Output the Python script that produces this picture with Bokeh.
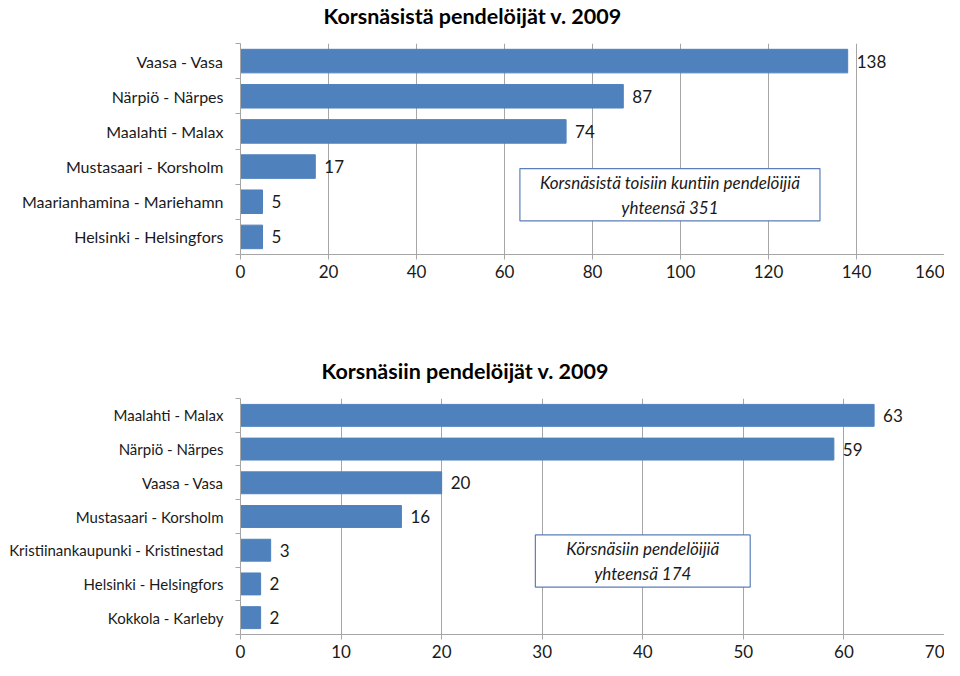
from bokeh.plotting import figure
from bokeh.models import ColumnDataSource, Range1d, FixedTicker, LabelSet, Label, Title
from bokeh.core.properties import value
from bokeh.layouts import column
from bokeh.embed import file_html
from bokeh.resources import INLINE

# ---- data: commuters out of Korsnäs ----
title_out = "Korsnäsistä pendelöijät v. 2009"
cats_out = ["Vaasa - Vasa", "Närpiö - Närpes", "Maalahti - Malax",
            "Mustasaari - Korsholm", "Maarianhamina - Mariehamn",
            "Helsinki - Helsingfors"]
vals_out = [138, 87, 74, 17, 5, 5]
ticks_out = [0, 20, 40, 60, 80, 100, 120, 140, 160]
note_out = "Korsnäsistä toisiin kuntiin pendelöijiä\nyhteensä 351"

# ---- data: commuters into Korsnäs ----
title_in = "Korsnäsiin pendelöijät v. 2009"
cats_in = ["Maalahti - Malax", "Närpiö - Närpes", "Vaasa - Vasa",
           "Mustasaari - Korsholm", "Kristiinankaupunki - Kristinestad",
           "Helsinki - Helsingfors", "Kokkola - Karleby"]
vals_in = [63, 59, 20, 16, 3, 2, 2]
ticks_in = [0, 10, 20, 30, 40, 50, 60, 70]
note_in = "Körsnäsiin pendelöijiä\nyhteensä 174"

FONT = "Lato"
BAR = "#4F81BD"
GRID = "#a6a6a6"
TXT = "#1a1a1a"


def make_chart(title, title_offset, cats, vals, ticks, note, note_pos,
               note_pad, width, height, bl, br, bt, bb, bar_h, cat_size):
    n = len(cats)
    src = ColumnDataSource(dict(y=list(range(n)), v=vals,
                                label=[str(v) for v in vals]))
    p = figure(width=width, height=height, output_backend="svg",
               toolbar_location=None,
               x_range=Range1d(ticks[0], ticks[-1]),
               y_range=Range1d(n - 0.5, -0.5),
               min_border_left=bl, min_border_right=br,
               min_border_top=bt, min_border_bottom=bb)
    p.outline_line_color = None
    p.background_fill_color = "white"
    p.border_fill_color = "white"

    # spacer between frame and title, then the title itself
    p.add_layout(Title(text=" ", text_font_size="1px", standoff=10), "above")
    p.add_layout(Title(text=title, align="left", offset=title_offset,
                       vertical_align="top", standoff=0, text_font=FONT,
                       text_font_style="bold", text_font_size="21.5px",
                       text_color="black"), "above")

    p.hbar(y="y", left=0, right="v", height=bar_h, source=src,
           fill_color=BAR, line_color=BAR)
    p.add_layout(LabelSet(x="v", y="y", text="label", source=src,
                          x_offset=9, text_baseline="middle",
                          text_font=value(FONT), text_font_size="17px",
                          text_color=TXT))

    # x axis
    xa = p.xaxis[0]
    xa.ticker = FixedTicker(ticks=ticks)
    xa.axis_line_color = GRID
    xa.major_tick_line_color = GRID
    xa.major_tick_out = 5
    xa.major_tick_in = 0
    xa.minor_tick_line_color = None
    xa.major_label_text_font = FONT
    xa.major_label_text_font_size = "17px"
    xa.major_label_text_color = TXT
    xa.major_label_standoff = 5

    # y axis (category labels)
    ya = p.yaxis[0]
    ya.ticker = FixedTicker(ticks=list(range(n)),
                            minor_ticks=[i - 0.5 for i in range(n + 1)])
    ya.major_label_overrides = {i: c for i, c in enumerate(cats)}
    ya.axis_line_color = GRID
    ya.major_tick_line_color = None
    ya.major_tick_out = 0
    ya.major_tick_in = 0
    ya.minor_tick_line_color = GRID
    ya.minor_tick_out = 5
    ya.minor_tick_in = 0
    ya.major_label_text_font = FONT
    ya.major_label_text_font_size = cat_size
    ya.major_label_text_color = TXT
    ya.major_label_standoff = 12

    p.xgrid.ticker = FixedTicker(ticks=ticks)
    p.xgrid.grid_line_color = GRID
    p.ygrid.grid_line_color = None

    p.add_layout(Label(x=note_pos[0], y=note_pos[1], text=note,
                       text_align="center", text_baseline="middle",
                       text_font=FONT, text_font_style="italic",
                       text_font_size="17px", text_color=TXT,
                       background_fill_color="white",
                       border_line_color="#5b7fb8", border_line_width=1.2,
                       padding=note_pad))
    return p


p1 = make_chart(title_out, 83, cats_out, vals_out, ticks_out,
                note_out, (97.6, 3.8), (20, 3),
                944, 280, 240, 0, 43, 20, 0.67, "16px")
p2 = make_chart(title_in, 81, cats_in, vals_in, ticks_in,
                note_in, (40, 4.32), (31, 3),
                944, 380, 240, 0, 118, 20, 0.65, "15px")

layout = column(p1, p2, spacing=0)
open("out.html", "w").write(file_html(layout, INLINE))
